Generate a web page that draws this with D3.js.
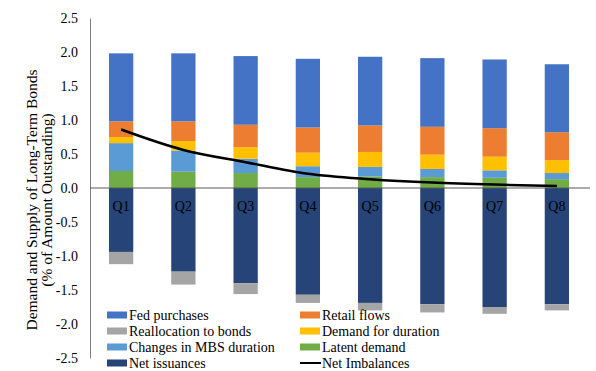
<!DOCTYPE html>
<html>
<head>
<meta charset="utf-8">
<script src="https://cdn.jsdelivr.net/npm/d3@7"></script>
<style>
  html, body { margin: 0; padding: 0; background: #fff; }
  svg { display: block; }
  svg text { font-family: "Liberation Serif", "Times New Roman", "DejaVu Serif", serif; }
</style>
</head>
<body>
<svg id="chart" width="596" height="371"></svg>
<script>
// Quarterly decomposition of demand and supply of long-term bonds
const quarters = ["Q1", "Q2", "Q3", "Q4", "Q5", "Q6", "Q7", "Q8"];
const latentDemand   = [0.25, 0.24, 0.22, 0.16, 0.17, 0.16, 0.15, 0.13];
const mbsDuration    = [0.41, 0.31, 0.21, 0.16, 0.14, 0.12, 0.11, 0.09];
const demandDuration = [0.09, 0.14, 0.17, 0.20, 0.22, 0.21, 0.20, 0.19];
const retailFlows    = [0.23, 0.29, 0.33, 0.37, 0.39, 0.41, 0.42, 0.41];
const fedPurchases   = [1.00, 1.00, 1.01, 1.01, 1.01, 1.01, 1.01, 1.00];
const netIssuances   = [-0.94, -1.23, -1.40, -1.57, -1.69, -1.71, -1.75, -1.71];
const reallocation   = [-0.18, -0.19, -0.16, -0.12, -0.11, -0.12, -0.10, -0.09];
const netImbalances  = [0.86, 0.56, 0.38, 0.21, 0.13, 0.08, 0.05, 0.03];
const yTicks = [2.5, 2.0, 1.5, 1.0, 0.5, 0.0, -0.5, -1.0, -1.5, -2.0, -2.5];

const FONT = "'Liberation Serif', 'Times New Roman', 'DejaVu Serif', serif";

const series = [
  { key: "latent",   name: "Latent demand",            values: latentDemand,   color: "#70AD47" },
  { key: "mbs",      name: "Changes in MBS duration",  values: mbsDuration,    color: "#5B9BD5" },
  { key: "duration", name: "Demand for duration",      values: demandDuration, color: "#FFC000" },
  { key: "retail",   name: "Retail flows",             values: retailFlows,    color: "#ED7D31" },
  { key: "fed",      name: "Fed purchases",            values: fedPurchases,   color: "#4472C4" },
  { key: "issuance", name: "Net issuances",            values: netIssuances,   color: "#264478" },
  { key: "realloc",  name: "Reallocation to bonds",    values: reallocation,   color: "#A5A5A5" }
];
const colorOf = Object.fromEntries(series.map(s => [s.key, s.color]));

const rows = quarters.map((q, i) => {
  const r = { q };
  series.forEach(s => r[s.key] = s.values[i]);
  return r;
});

const svg = d3.select("#chart");
const x = d3.scaleBand().domain(quarters).range([90, 588]).paddingInner(0.61).paddingOuter(0.305);
const y = d3.scaleLinear().domain([-2.5, 2.5]).range([358, 18]);

const stack = d3.stack().keys(series.map(s => s.key)).offset(d3.stackOffsetDiverging);
const layers = stack(rows);

// stacked bars
svg.append("g").selectAll("g").data(layers).join("g")
  .attr("fill", d => colorOf[d.key])
  .selectAll("rect").data(d => d).join("rect")
  .attr("x", d => x(d.data.q))
  .attr("width", x.bandwidth())
  .attr("y", d => y(Math.max(d[0], d[1])))
  .attr("height", d => Math.abs(y(d[0]) - y(d[1])));

// left axis (labels only, no tick marks)
const fmt = d3.format(".1f");
const yAxis = d3.axisLeft(y).tickValues(yTicks).tickSize(0).tickPadding(12)
  .tickFormat(d => d < 0 ? "-" + fmt(-d) : fmt(d));
const ga = svg.append("g").attr("transform", "translate(90,0)").call(yAxis)
  .attr("font-family", FONT).attr("font-size", 14);
ga.select(".domain").attr("stroke", "#7f7f7f").attr("stroke-width", 1);
ga.selectAll("text").attr("fill", "#000");

// zero line
svg.append("line")
  .attr("x1", 90).attr("x2", 590)
  .attr("y1", y(0)).attr("y2", y(0))
  .attr("stroke", "#595959").attr("stroke-width", 1);

// category labels just below the zero line
svg.append("g").attr("font-family", FONT).selectAll("text").data(quarters).join("text")
  .attr("x", d => x(d) + x.bandwidth() / 2)
  .attr("y", y(0) + 23)
  .attr("text-anchor", "middle")
  .attr("font-size", 14)
  .attr("fill", "#000")
  .text(d => d);

// net imbalances line
const line = d3.line()
  .x((d, i) => x(quarters[i]) + x.bandwidth() / 2)
  .y(d => y(d))
  .curve(d3.curveCatmullRom);
svg.append("path")
  .attr("d", line(netImbalances))
  .attr("fill", "none")
  .attr("stroke", "#000")
  .attr("stroke-width", 2.5);

// y-axis title
const title = svg.append("text")
  .attr("transform", "translate(37,200) rotate(-90)")
  .attr("text-anchor", "middle")
  .attr("font-family", FONT)
  .attr("font-size", 15.5)
  .attr("fill", "#000");
title.append("tspan").attr("x", 0).attr("dy", 0).text("Demand and Supply of Long-Term Bonds");
title.append("tspan").attr("x", 0).attr("dy", 15).text("(% of Amount Outstanding)");

// legend
const legendItems = [
  { name: "Fed purchases", color: colorOf.fed },
  { name: "Retail flows", color: colorOf.retail },
  { name: "Reallocation to bonds", color: colorOf.realloc },
  { name: "Demand for duration", color: colorOf.duration },
  { name: "Changes in MBS duration", color: colorOf.mbs },
  { name: "Latent demand", color: colorOf.latent },
  { name: "Net issuances", color: colorOf.issuance },
  { name: "Net Imbalances", line: true }
];
const colX = [107, 300];
const legend = svg.append("g").attr("font-family", FONT).selectAll("g").data(legendItems).join("g")
  .attr("transform", (d, i) => `translate(${colX[i % 2]},${315 + Math.floor(i / 2) * 16})`);
legend.filter(d => !d.line).append("rect")
  .attr("x", 0).attr("y", -3.5).attr("width", 20).attr("height", 7)
  .attr("fill", d => d.color);
legend.filter(d => d.line).append("line")
  .attr("x1", 0).attr("x2", 21).attr("y1", 0).attr("y2", 0)
  .attr("stroke", "#000").attr("stroke-width", 2);
legend.append("text")
  .attr("x", 22).attr("y", 0).attr("dy", "0.35em")
  .attr("font-size", 14).attr("fill", "#000")
  .text(d => d.name);
</script>
</body>
</html>
